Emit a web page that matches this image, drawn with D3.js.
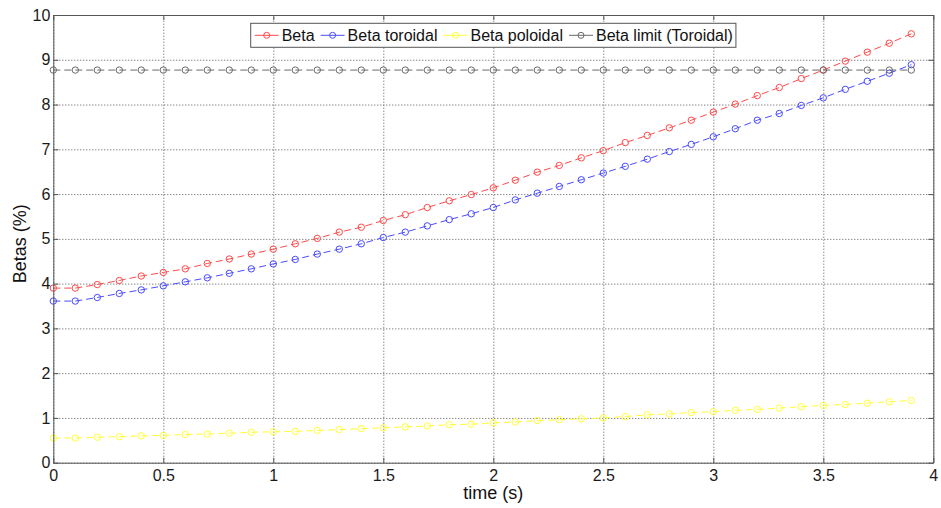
<!DOCTYPE html>
<html>
<head>
<meta charset="utf-8">
<script src="https://cdn.jsdelivr.net/npm/d3@7"></script>
<style>
  html, body { margin: 0; padding: 0; background: #fff; }
  svg { display: block; font-family: Arial, "Liberation Sans", sans-serif; }
</style>
</head>
<body>
<svg id="chart" width="941" height="508"></svg>
<script>
// ---- data ----
const time = [0.0,0.1,0.2,0.3,0.4,0.5,0.6,0.7,0.8,0.9,1.0,1.1,1.2,1.3,1.4,1.5,1.6,1.7,1.8,1.9,
              2.0,2.1,2.2,2.3,2.4,2.5,2.6,2.7,2.8,2.9,3.0,3.1,3.2,3.3,3.4,3.5,3.6,3.7,3.8,3.9];
const beta = [3.90,3.90,3.98,4.07,4.17,4.25,4.33,4.45,4.55,4.66,4.77,4.89,5.01,5.15,5.26,5.41,5.54,5.70,5.85,5.99,
              6.14,6.31,6.49,6.64,6.81,6.97,7.15,7.31,7.48,7.65,7.83,8.01,8.20,8.38,8.58,8.77,8.97,9.17,9.37,9.58];
const betaToroidal = [3.61,3.61,3.69,3.78,3.86,3.95,4.04,4.13,4.23,4.33,4.44,4.54,4.66,4.77,4.89,5.03,5.15,5.29,5.43,5.56,
              5.70,5.87,6.02,6.17,6.32,6.47,6.62,6.78,6.95,7.11,7.28,7.46,7.65,7.80,7.98,8.15,8.34,8.52,8.70,8.89];
const betaPoloidal = [0.55,0.55,0.57,0.58,0.60,0.61,0.63,0.64,0.66,0.68,0.69,0.70,0.72,0.74,0.76,0.78,0.80,0.82,0.85,0.86,
              0.89,0.91,0.94,0.96,0.98,1.00,1.03,1.07,1.09,1.12,1.14,1.17,1.19,1.22,1.25,1.28,1.30,1.33,1.36,1.39];
const betaLimit = [8.77,8.77,8.77,8.77,8.77,8.77,8.77,8.77,8.77,8.77,8.77,8.77,8.77,8.77,8.77,8.77,8.77,8.77,8.77,8.77,
              8.77,8.77,8.77,8.77,8.77,8.77,8.77,8.77,8.77,8.77,8.77,8.77,8.77,8.77,8.77,8.77,8.77,8.77,8.77,8.77];
const seriesNames = ["Beta", "Beta toroidal", "Beta poloidal", "Beta limit (Toroidal)"];
const xTicks = [0, 0.5, 1, 1.5, 2, 2.5, 3, 3.5, 4];
const yTicks = [0, 1, 2, 3, 4, 5, 6, 7, 8, 9, 10];
const xLabel = "time (s)";
const yLabel = "Betas (%)";

// ---- layout ----
const svg = d3.select("#chart");
const L = 53.3, R = 933.3, T = 15, B = 462.7;
const x = d3.scaleLinear().domain([0, 4]).range([L, R]);
const y = d3.scaleLinear().domain([0, 10]).range([B, T]);
const colors = ["#ff4a4a", "#4a4aff", "#ffff3a", "#6a6a6a"];
const seriesData = [beta, betaToroidal, betaPoloidal, betaLimit];

svg.append("rect").attr("width", 941).attr("height", 508).attr("fill", "#fff");

// grid
const grid = svg.append("g").attr("class", "grid");
grid.append("g").attr("transform", `translate(0,${B})`)
  .call(d3.axisBottom(x).tickValues(xTicks).tickSize(-(B - T)).tickFormat(""))
  .call(g => g.select(".domain").remove())
  .call(g => g.selectAll("line").attr("stroke", "#555").attr("stroke-dasharray", "1,2"));
grid.append("g").attr("transform", `translate(${L},0)`)
  .call(d3.axisLeft(y).tickValues(yTicks).tickSize(-(R - L)).tickFormat(""))
  .call(g => g.select(".domain").remove())
  .call(g => g.selectAll("line").attr("stroke", "#555").attr("stroke-dasharray", "1,2"));

// series
const line = d3.line().x((d, i) => x(time[i])).y(d => y(d));
seriesData.forEach((vals, k) => {
  const g = svg.append("g");
  g.append("path").datum(vals).attr("d", line)
    .attr("fill", "none").attr("stroke", colors[k]).attr("stroke-width", 1)
    .attr("stroke-dasharray", "7,4");
  g.selectAll("circle").data(vals).join("circle")
    .attr("cx", (d, i) => x(time[i])).attr("cy", d => y(d)).attr("r", 3.2)
    .attr("fill", "none").attr("stroke", colors[k]).attr("stroke-width", 1);
});

// axes (box with inward ticks)
const axisColor = "#555";
const fontSize = "16px";
function styleAxis(g) {
  g.select(".domain").attr("stroke", axisColor);
  g.selectAll(".tick line").attr("stroke", axisColor);
  g.selectAll("text").attr("fill", "#1a1a1a").style("font-size", fontSize)
    .style("font-family", "Arial, 'Liberation Sans', sans-serif");
}
svg.append("g").attr("transform", `translate(0,${B})`)
  .call(d3.axisBottom(x).tickValues(xTicks).tickSizeInner(-5).tickSizeOuter(0).tickPadding(7).tickFormat(d3.format("")))
  .call(styleAxis);
svg.append("g").attr("transform", `translate(0,${T})`)
  .call(d3.axisTop(x).tickValues(xTicks).tickSizeInner(-5).tickSizeOuter(0).tickFormat(""))
  .call(styleAxis);
svg.append("g").attr("transform", `translate(${L},0)`)
  .call(d3.axisLeft(y).tickValues(yTicks).tickSizeInner(-5).tickSizeOuter(0).tickPadding(3).tickFormat(d3.format("")))
  .call(styleAxis);
svg.append("g").attr("transform", `translate(${R},0)`)
  .call(d3.axisRight(y).tickValues(yTicks).tickSizeInner(-5).tickSizeOuter(0).tickFormat(""))
  .call(styleAxis);

// axis labels
svg.append("text").attr("x", (L + R) / 2).attr("y", 499).attr("text-anchor", "middle")
  .style("font-size", "18px").attr("fill", "#111").text(xLabel);
svg.append("text").attr("transform", `translate(26,${(T + B) / 2 + 5}) rotate(-90)`)
  .attr("text-anchor", "middle").style("font-size", "18px").attr("fill", "#111").text(yLabel);

// legend
const leg = svg.append("g");
const legTop = 23.3, legBot = 47.3, legLeft = 250.7;
const box = leg.append("rect").attr("x", legLeft).attr("y", legTop).attr("height", legBot - legTop)
  .attr("fill", "#fff").attr("stroke", axisColor).attr("stroke-width", 1);
let cx = legLeft;
const cy = (legTop + legBot) / 2;
seriesNames.forEach((name, k) => {
  const x0 = cx + 4, x1 = x0 + 24;
  leg.append("line").attr("x1", x0).attr("x2", x1).attr("y1", cy).attr("y2", cy)
    .attr("stroke", colors[k]).attr("stroke-width", 1);
  leg.append("circle").attr("cx", (x0 + x1) / 2).attr("cy", cy).attr("r", 3)
    .attr("fill", "none").attr("stroke", colors[k]);
  const t = leg.append("text").attr("x", x1 + 3).attr("y", cy + 5.5)
    .style("font-size", "16px").attr("fill", "#111").text(name);
  const w = t.node().getComputedTextLength();
  cx = x1 + 3 + w + 2;
});
box.attr("width", cx + 1 - legLeft);
</script>
</body>
</html>
